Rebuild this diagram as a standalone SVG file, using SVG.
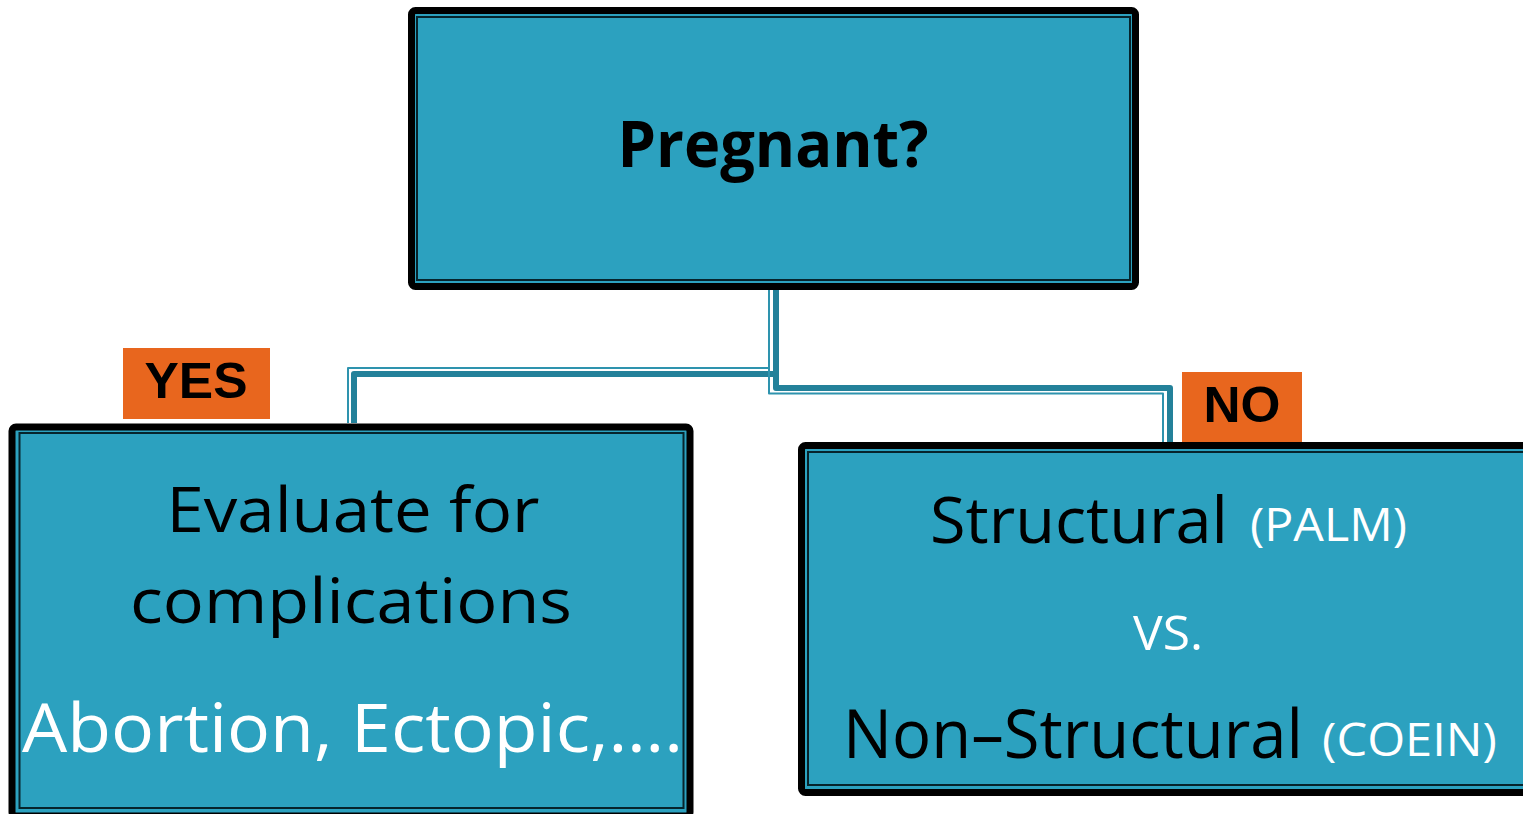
<svg xmlns="http://www.w3.org/2000/svg" width="1523" height="814" viewBox="0 0 1523 814">
<style>
.box{fill:#2CA1BF;stroke:#000;stroke-width:7}
.inner{fill:none;stroke:#06242c;stroke-width:2}
.thick{fill:none;stroke:#23819A;stroke-width:6;stroke-linejoin:round}
.thin{fill:none;stroke:#2E93AE;stroke-width:2;stroke-linejoin:round}
.tag{fill:#E8661E}
.tagt{font-family:"Liberation Sans",Arial,sans-serif;font-weight:bold;font-size:50px;fill:#000;text-anchor:middle}
.t{font-family:"Open Sans","Noto Sans",sans-serif;fill:#000}
.w{fill:#fff}
</style>
<rect width="1523" height="814" fill="#fff"/>
<g id="connectors">
<path class="thin" d="M769 290 V368 H348 V423"/>
<path class="thick" d="M776 290 V374 H354 V423"/>
<path class="thin" d="M769 290 V393.5 H1163 V443"/>
<path class="thick" d="M776 290 V388 H1170 V443"/>
</g>
<g id="pregnant">
<rect class="box" x="411.5" y="10.5" width="724" height="276" rx="4"/>
<rect class="inner" x="417" y="17" width="713" height="263"/>
<text class="t" x="773" y="167" font-size="64" font-weight="bold" text-anchor="middle" textLength="311" lengthAdjust="spacingAndGlyphs">Pregnant?</text>
</g>
<g id="yes-label">
<rect class="tag" x="123" y="348" width="147" height="71"/>
<text class="tagt" x="196" y="398" textLength="103" lengthAdjust="spacingAndGlyphs">YES</text>
</g>
<g id="no-label">
<rect class="tag" x="1182" y="372" width="120" height="70"/>
<text class="tagt" x="1242" y="422" textLength="77" lengthAdjust="spacingAndGlyphs">NO</text>
</g>
<g id="evaluate">
<rect class="box" x="12" y="427" width="678" height="389" rx="4"/>
<rect class="inner" x="19.5" y="433" width="664" height="375"/>
<text class="t" x="353" y="532" font-size="62" text-anchor="middle" textLength="373" lengthAdjust="spacingAndGlyphs">Evaluate for</text>
<text class="t" x="351" y="623" font-size="62" text-anchor="middle" textLength="442" lengthAdjust="spacingAndGlyphs">complications</text>
<text class="t w" x="22" y="752" font-size="68" textLength="661" lengthAdjust="spacingAndGlyphs">Abortion, Ectopic,….</text>
</g>
<g id="structural">
<rect class="box" x="801.5" y="445.5" width="740" height="347" rx="4"/>
<rect class="inner" x="808" y="452" width="730" height="333"/>
<text class="t" x="930" y="543" font-size="64" textLength="298" lengthAdjust="spacingAndGlyphs">Structural</text>
<text class="t w" x="1250" y="541" font-size="46" textLength="157" lengthAdjust="spacingAndGlyphs">(PALM)</text>
<text class="t w" x="1168" y="650" font-size="48" text-anchor="middle" textLength="70" lengthAdjust="spacingAndGlyphs">VS.</text>
<text class="t" x="843" y="758" font-size="68" textLength="460" lengthAdjust="spacingAndGlyphs">Non–Structural</text>
<text class="t w" x="1322" y="756" font-size="46" textLength="175" lengthAdjust="spacingAndGlyphs">(COEIN)</text>
</g>
</svg>
